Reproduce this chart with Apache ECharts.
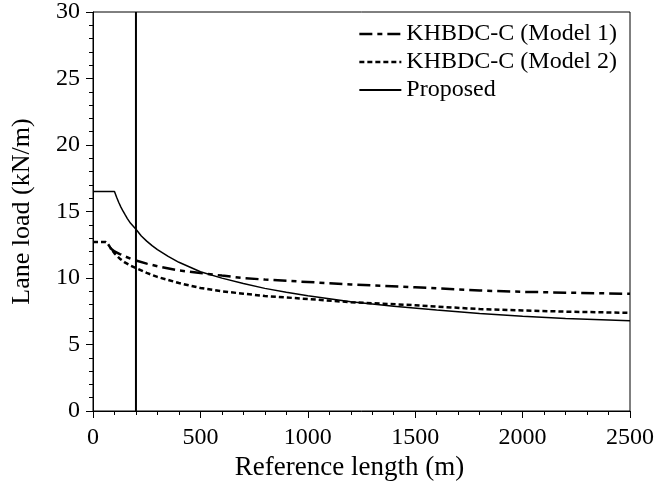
<!DOCTYPE html>
<html>
<head>
<meta charset="utf-8">
<script src="https://cdn.jsdelivr.net/npm/echarts@6/dist/echarts.min.js"></script>
<style>html,body{margin:0;padding:0;background:#fff}#c{width:657px;height:493px}</style>
</head>
<body>
<div id="c"></div>
<script>
const model1X = [80, 100, 125, 150, 175, 200, 250, 300, 400, 500, 600, 700, 800, 1000, 1200, 1500, 1800, 2000, 2200, 2500];
const model1Y = [12.25, 12.0, 11.8, 11.62, 11.45, 11.32, 11.08, 10.88, 10.57, 10.37, 10.18, 10.0, 9.88, 9.7, 9.52, 9.3, 9.06, 8.96, 8.9, 8.81];
const model2X = [0, 60, 70, 80, 100, 125, 150, 175, 200, 250, 300, 400, 500, 600, 700, 800, 1000, 1200, 1500, 1800, 2000, 2200, 2500];
const model2Y = [12.7, 12.7, 12.55, 12.3, 11.85, 11.45, 11.15, 10.93, 10.75, 10.38, 10.08, 9.62, 9.25, 9.0, 8.82, 8.65, 8.42, 8.18, 7.95, 7.66, 7.56, 7.47, 7.38];
const propX = [0, 100, 110, 120, 130, 140, 150, 160, 175, 200, 225, 250, 275, 300, 350, 400, 450, 500, 600, 700, 800, 900, 1000, 1200, 1400, 1600, 1800, 2000, 2200, 2500];
const propY = [16.5, 16.5, 16.07, 15.68, 15.33, 15.02, 14.74, 14.47, 14.11, 13.66, 13.16, 12.77, 12.43, 12.13, 11.62, 11.18, 10.83, 10.47, 9.99, 9.58, 9.22, 8.93, 8.66, 8.22, 7.88, 7.59, 7.33, 7.13, 6.95, 6.78];
const refLineX = 200;
const names = ['KHBDC-C (Model 1)', 'KHBDC-C (Model 2)', 'Proposed'];

const zip = (xs, ys) => xs.map((x, i) => [x, ys[i]]);
const font = 'Liberation Serif';
const chart = echarts.init(document.getElementById('c'), null, {renderer: 'canvas'});
chart.setOption({
  animation: false,
  grid: {left: 93, top: 12, right: 26, bottom: 82, show: true, borderColor: '#000', borderWidth: 1, backgroundColor: 'transparent'},
  legend: {
    data: [
      {name: names[0], lineStyle: {width: 2.5}},
      {name: names[1], lineStyle: {width: 2.5}},
      {name: names[2], lineStyle: {width: 2}}
    ],
    right: 40, top: 22, orient: 'vertical', itemWidth: 42, itemHeight: 14, itemGap: 4,
    padding: 0, align: 'left', icon: 'inherit',
    itemStyle: {color: 'transparent', borderColor: 'transparent', borderWidth: 0, opacity: 0},
    textStyle: {fontFamily: font, fontSize: 24, lineHeight: 24, color: '#000'},
    inactiveColor: '#000'
  },
  xAxis: {
    type: 'value', min: 0, max: 2500, interval: 500,
    name: 'Reference length (m)', nameLocation: 'middle', nameGap: 42,
    nameTextStyle: {fontFamily: font, fontSize: 27, color: '#000', padding: [0, 24, 0, 0]},
    axisLine: {lineStyle: {color: '#000', width: 1}},
    axisTick: {length: 7, lineStyle: {color: '#000'}},
    minorTick: {show: true, splitNumber: 5, length: 4, lineStyle: {color: '#000'}},
    axisLabel: {fontFamily: font, fontSize: 24, color: '#000', margin: 15, formatter: v => String(v)},
    splitLine: {show: false}
  },
  yAxis: {
    type: 'value', min: 0, max: 30, interval: 5,
    name: 'Lane load (kN/m)', nameLocation: 'middle', nameGap: 58,
    nameTextStyle: {fontFamily: font, fontSize: 26, color: '#000'},
    axisLine: {lineStyle: {color: '#000', width: 1}},
    axisTick: {length: 7, lineStyle: {color: '#000'}},
    minorTick: {show: true, splitNumber: 5, length: 4, lineStyle: {color: '#000'}},
    axisLabel: {fontFamily: font, fontSize: 24, color: '#000', margin: 13, formatter: v => String(v)},
    splitLine: {show: false}
  },
  series: [
    {name: names[0], type: 'line', symbol: 'none', data: zip(model1X, model1Y),
     lineStyle: {color: '#000', width: 2.5, type: [13, 5, 5, 5]}, itemStyle: {color: '#000'}},
    {name: names[1], type: 'line', symbol: 'none', data: zip(model2X, model2Y),
     lineStyle: {color: '#000', width: 2.5, type: [5, 3]}, itemStyle: {color: '#000'}},
    {name: names[2], type: 'line', symbol: 'none', data: zip(propX, propY),
     lineStyle: {color: '#000', width: 1.5, type: 'solid'}, itemStyle: {color: '#000'}},
    {name: 'ref', type: 'line', symbol: 'none', data: [[refLineX, 0], [refLineX, 30]],
     lineStyle: {color: '#000', width: 2}, itemStyle: {color: '#000'}}
  ]
});
</script>
</body>
</html>
